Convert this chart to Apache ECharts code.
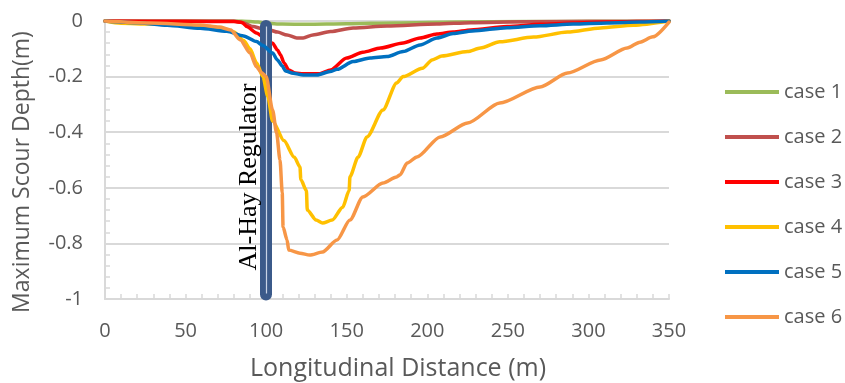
<!DOCTYPE html>
<html>
<head>
<meta charset="utf-8">
<script src="https://cdn.jsdelivr.net/npm/echarts@6/dist/echarts.min.js"></script>
<style>html,body{margin:0;padding:0;background:#fff}#c{width:845px;height:383px}</style>
</head>
<body>
<div id="c"></div>
<script>
const seriesNames = ['case 1', 'case 2', 'case 3', 'case 4', 'case 5', 'case 6'];
const seriesColors = ['#9bbb59', '#c0504d', '#ff0000', '#ffc000', '#0070c0', '#f79646'];
const xTicks = [0, 50, 100, 150, 200, 250, 300, 350];
const yTicks = [0, -0.2, -0.4, -0.6, -0.8, -1];
const regulatorX = 100;
const regulatorLabel = 'Al-Hay Regulator';

const case1 = [[0,0],[50,0],[85,0],[95,-0.004],[100,-0.008],[110,-0.011],[125,-0.012],[150,-0.010],[180,-0.007],[220,-0.004],[260,-0.002],[300,-0.001],[350,0]];
const case2 = [[0,0],[50,0],[80,0],[85,-0.005],[92,-0.02],[97,-0.027],[102,-0.032],[107,-0.04],[113,-0.05],[119,-0.061],[123,-0.061],[129,-0.05],[140,-0.038],[154,-0.025],[175,-0.018],[206,-0.011],[227,-0.006],[260,-0.003],[300,-0.001],[350,0]];
const case3 = [[0,0],[50,-0.001],[80,-0.002],[85,-0.005],[88,-0.02],[94,-0.043],[99,-0.06],[104,-0.08],[107,-0.104],[109,-0.122],[111,-0.15],[114,-0.176],[118,-0.187],[123,-0.19],[133,-0.19],[140,-0.176],[150,-0.133],[160,-0.112],[171,-0.097],[185,-0.079],[195.5,-0.061],[206,-0.047],[216,-0.04],[227,-0.032],[249.5,-0.02],[270,-0.012],[290,-0.007],[312,-0.004],[330,-0.002],[350,0]];
const case4 = [[0,0],[10,-0.008],[28,-0.011],[59,-0.018],[72,-0.026],[80,-0.04],[86,-0.07],[90,-0.1],[94,-0.15],[98,-0.2],[101,-0.27],[104,-0.36],[111,-0.43],[117.5,-0.49],[121,-0.525],[121.5,-0.57],[125,-0.61],[125.5,-0.68],[131,-0.716],[135,-0.727],[141,-0.716],[147.5,-0.67],[151.5,-0.61],[152,-0.56],[157,-0.49],[162.6,-0.417],[172.5,-0.32],[181,-0.223],[185,-0.2],[197,-0.17],[203,-0.14],[209,-0.126],[225,-0.11],[233,-0.097],[245,-0.075],[266,-0.058],[287,-0.04],[307.5,-0.025],[328,-0.015],[350,0]];
const case5 = [[0,0],[20,-0.006],[38.5,-0.015],[59,-0.026],[75.6,-0.037],[86,-0.054],[94,-0.074],[98,-0.088],[104,-0.115],[107,-0.14],[110,-0.162],[112,-0.18],[116.7,-0.188],[123,-0.194],[131.6,-0.194],[139.7,-0.182],[144,-0.174],[154,-0.146],[164.5,-0.133],[175,-0.128],[185,-0.11],[195.5,-0.086],[206,-0.061],[216,-0.045],[228,-0.036],[249.5,-0.024],[270,-0.017],[290.5,-0.011],[311.6,-0.007],[332,-0.004],[350,0]];
const case6 = [[0,0],[28,-0.007],[59,-0.014],[71,-0.022],[78,-0.032],[84,-0.068],[90,-0.115],[94,-0.165],[97,-0.185],[100,-0.2],[104,-0.32],[106.5,-0.403],[108.6,-0.5],[110,-0.619],[110.5,-0.741],[113,-0.788],[114,-0.824],[121,-0.835],[127,-0.842],[135,-0.831],[144,-0.788],[152,-0.716],[160,-0.633],[172.5,-0.583],[181,-0.561],[183,-0.554],[187.5,-0.511],[193.6,-0.489],[208,-0.417],[225,-0.367],[245,-0.295],[270,-0.237],[287,-0.187],[307.5,-0.14],[324,-0.097],[332,-0.076],[340,-0.057],[350,-0.004]];

const allData = [case1, case2, case3, case4, case5, case6];
const FONT = '"Open Sans", sans-serif';
const GREY = '#595959';

const chart = echarts.init(document.getElementById('c'), null, {renderer: 'canvas'});

const series = allData.map((d, i) => ({
  name: seriesNames[i],
  type: 'line',
  data: d,
  symbol: 'none',
  showSymbol: false,
  smooth: 0.25,
  smoothMonotone: 'x',
  lineStyle: {width: 3.5, color: seriesColors[i], cap: 'round', join: 'round'},
  itemStyle: {color: seriesColors[i]},
  z: 2 + i,
  animation: false
}));

series.push({
  name: 'regulator',
  type: 'line',
  data: [],
  z: 20,
  animation: false,
  markLine: {
    silent: true,
    symbol: ['none', 'none'],
    animation: false,
    label: {show: false},
    data: [
      [{coord: [regulatorX, -0.018], lineStyle: {color: '#3b5a8a', width: 12, type: 'solid', cap: 'round'}},
       {coord: [regulatorX, -0.984]}],
      [{coord: [regulatorX, -0.02], lineStyle: {color: '#c8d3e6', width: 1.2, type: 'solid'}},
       {coord: [regulatorX, -0.98]}]
    ]
  }
});

const option = {
  animation: false,
  backgroundColor: '#ffffff',
  grid: {left: 105, right: 176, top: 21, bottom: 84, containLabel: false},
  xAxis: {
    type: 'value', min: 0, max: 350, interval: 50,
    axisLine: {show: true, onZero: false, lineStyle: {color: '#d9d9d9', width: 2}},
    axisTick: {show: true, inside: true, length: 5, lineStyle: {color: '#d9d9d9', width: 1.5}},
    minorTick: {show: true, splitNumber: 5, length: 5, lineStyle: {color: '#d9d9d9', width: 1.5}},
    splitLine: {show: false},
    axisLabel: {color: GREY, fontFamily: FONT, fontSize: 20, margin: 22,
      formatter: v => xTicks.includes(v) ? String(v) : ''}
  },
  yAxis: {
    type: 'value', min: -1, max: 0, interval: 0.2,
    axisLine: {show: true, onZero: false, lineStyle: {color: '#d9d9d9', width: 2}},
    axisTick: {show: true, inside: true, length: 5, lineStyle: {color: '#d9d9d9', width: 1.5}},
    minorTick: {show: true, splitNumber: 5, length: 5, lineStyle: {color: '#d9d9d9', width: 1.5}},
    splitLine: {show: true, lineStyle: {color: '#d9d9d9', width: 2}},
    axisLabel: {color: GREY, fontFamily: FONT, fontSize: 20, margin: 22,
      formatter: v => {
        const r = +(+v).toFixed(1);
        const t = yTicks.find(k => Math.abs(k - r) < 1e-9);
        return t === undefined ? '' : String(t === 0 ? 0 : t);
      }}
  },
  legend: {
    data: seriesNames,
    orient: 'vertical',
    left: 725, top: 82,
    padding: 0,
    icon: 'rect',
    itemWidth: 54, itemHeight: 4, itemGap: 25,
    textStyle: {color: GREY, fontFamily: FONT, fontSize: 20, lineHeight: 20, padding: [0, 0, 0, 0]},
    selectedMode: false
  },
  graphic: [
    {type: 'text', x: 22, y: 172, rotation: Math.PI / 2,
     style: {text: 'Maximum Scour Depth(m)', fill: GREY, font: '23px ' + FONT, align: 'center', verticalAlign: 'middle'}},
    {type: 'text', x: 398, y: 369,
     style: {text: 'Longitudinal Distance (m)', fill: GREY, font: '25px ' + FONT, align: 'center', verticalAlign: 'middle'}},
    {type: 'text', x: 249, y: 177, rotation: Math.PI / 2, z: 100,
     style: {text: regulatorLabel, fill: '#000000', font: '26px "Liberation Serif", serif', align: 'center', verticalAlign: 'middle'}}
  ],
  series: series
};
chart.setOption(option);
</script>
</body>
</html>
